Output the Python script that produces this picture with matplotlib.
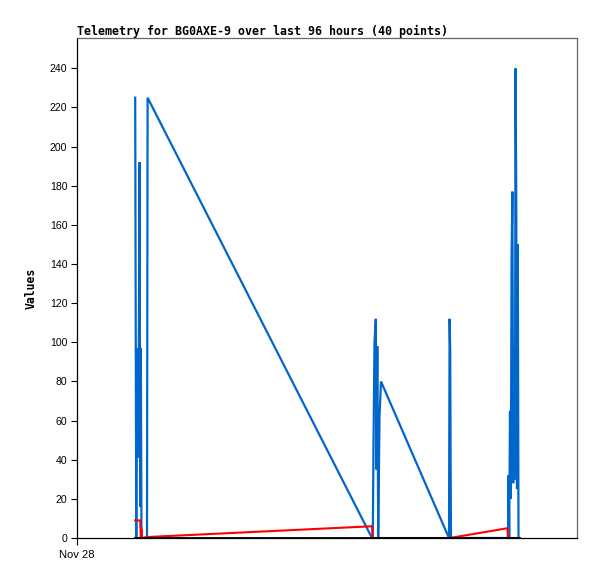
import matplotlib
matplotlib.use("Agg")
import matplotlib.pyplot as plt

# time in hours since Nov 28 00:00
hours = [2.328, 2.348, 2.372, 2.392, 2.412, 2.432, 2.452, 2.472, 2.504, 2.528,
         2.552, 2.580, 2.600, 2.800, 2.824,
         11.800, 11.832, 11.860, 11.900, 11.952, 11.980, 12.012, 12.048, 12.100, 12.160,
         14.880, 14.904, 14.928, 14.944, 14.960,
         17.220, 17.240, 17.260, 17.288, 17.320, 17.352, 17.384, 17.416, 17.448, 17.488,
         17.520, 17.540, 17.568, 17.600, 17.632, 17.660]

blue_vals = [225, 112, 0, 97, 41, 97, 41, 97, 192, 16,
             97, 0, 0, 0, 225,
             0, 0, 48, 100, 112, 35, 98, 0, 62, 80,
             0, 112, 96, 40, 0,
             0, 0, 32, 0, 65, 20, 145, 177, 28, 98,
             30, 240, 180, 25, 150, 0]

red_vals = [9, 9, 9, 9, 9, 9, 9, 9, 9, 9,
            0, 4.6, 0, 0.5, 0.5,
            6, 0, 0, 0, 0, 0, 0, 0, 0, 0,
            0, 0, 0, 0, 0.1,
            5, 0, 0, 0, 0, 0, 0, 0, 0, 0,
            0, 0, 0, 0, 0, 0]

black_vals = [0] * len(hours)

yticks = list(range(0, 241, 20))
title = "Telemetry for BG0AXE-9 over last 96 hours (40 points)"
x_tick_label = "Nov 28"

fig = plt.figure(figsize=(5.97, 5.79), dpi=100)
ax = fig.add_axes([77 / 597, 41 / 579, 500 / 597, 500 / 579])

ax.plot(hours, blue_vals, color="#0066CC", lw=1.6, solid_joinstyle="miter")
ax.plot(hours, red_vals, color="#FF0000", lw=1.5)
ax.plot(hours, black_vals, color="#000000", lw=2.0)

ax.set_xlim(0, 20)
ax.set_ylim(0, 255.5)

ax.set_yticks(yticks)
ax.set_yticklabels([str(v) for v in yticks], fontfamily="Liberation Sans", fontsize=7.6)
ax.tick_params(axis="y", direction="out", length=4.5, width=0.8, pad=2.5, colors="black")

ax.set_xticks([0])
ax.set_xticklabels([x_tick_label], fontfamily="Liberation Sans", fontsize=8)
ax.tick_params(axis="x", direction="out", length=5, width=0.8, pad=3.5)

for s in ["left", "bottom"]:
    ax.spines[s].set_color("black")
    ax.spines[s].set_linewidth(0.9)
for s in ["top", "right"]:
    ax.spines[s].set_color("#666666")
    ax.spines[s].set_linewidth(0.9)

ax.set_title(title, loc="left", fontfamily="DejaVu Sans Mono", fontweight="bold",
             fontsize=8.4, pad=2)
ax.set_ylabel("Values", fontfamily="DejaVu Sans Mono", fontweight="bold", fontsize=8.3,
              labelpad=9)

fig.savefig("out.png", dpi=100)
